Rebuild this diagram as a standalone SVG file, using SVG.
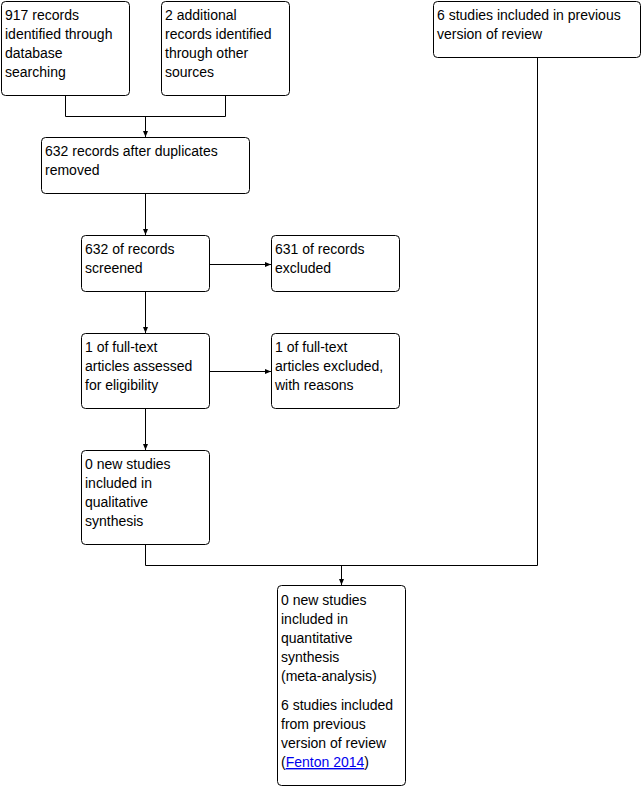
<svg xmlns="http://www.w3.org/2000/svg" width="642" height="786" viewBox="0 0 642 786">
<style>
.box{fill:#fff;stroke:#000;stroke-width:1}
text{font-family:"Liberation Sans",Arial,sans-serif;font-size:14px;fill:#000}
.link{fill:#0000ee;text-decoration:underline}
.con{fill:none;stroke:#000;stroke-width:1}
</style>
<defs>
<marker id="ah" markerWidth="6" markerHeight="6" refX="6" refY="3" orient="auto" markerUnits="userSpaceOnUse">
<path d="M0,0.5 L6,3 L0,5.5 Z" fill="#000"/>
</marker>
</defs>
<rect width="642" height="786" fill="#fff"/>
<g id="connectors">
<path class="con" d="M65.5,95 V116.5 H225.5 V95"/>
<path class="con" d="M145.5,116.5 V137" marker-end="url(#ah)"/>
<path class="con" d="M145.5,193 V235" marker-end="url(#ah)"/>
<path class="con" d="M209,264.5 H271" marker-end="url(#ah)"/>
<path class="con" d="M145.5,291 V333" marker-end="url(#ah)"/>
<path class="con" d="M209,371.5 H271" marker-end="url(#ah)"/>
<path class="con" d="M145.5,408 V450" marker-end="url(#ah)"/>
<path class="con" d="M145.5,544 V565.5 H537.5 V57"/>
<path class="con" d="M341.5,565.5 V585" marker-end="url(#ah)"/>
</g>
<g id="n1"><rect class="box" x="1.5" y="1.5" width="128" height="94" rx="4"/>
<text x="5" y="20">917 records</text><text x="5" y="39">identified through</text><text x="5" y="58">database</text><text x="5" y="77">searching</text></g>
<g id="n2"><rect class="box" x="161.5" y="1.5" width="128" height="94" rx="4"/>
<text x="165" y="20">2 additional</text><text x="165" y="39">records identified</text><text x="165" y="58">through other</text><text x="165" y="77">sources</text></g>
<g id="n3"><rect class="box" x="433.5" y="1.5" width="207" height="56" rx="4"/>
<text x="437" y="20">6 studies included in previous</text><text x="437" y="39">version of review</text></g>
<g id="n4"><rect class="box" x="41.5" y="137.5" width="208" height="56" rx="4"/>
<text x="45" y="156">632 records after duplicates</text><text x="45" y="175">removed</text></g>
<g id="n5"><rect class="box" x="81.5" y="235.5" width="128" height="56" rx="4"/>
<text x="85" y="254">632 of records</text><text x="85" y="273">screened</text></g>
<g id="n6"><rect class="box" x="271.5" y="235.5" width="128" height="56" rx="4"/>
<text x="275" y="254">631 of records</text><text x="275" y="273">excluded</text></g>
<g id="n7"><rect class="box" x="81.5" y="333.5" width="128" height="75" rx="4"/>
<text x="85" y="352">1 of full-text</text><text x="85" y="371">articles assessed</text><text x="85" y="390">for eligibility</text></g>
<g id="n8"><rect class="box" x="271.5" y="333.5" width="128" height="75" rx="4"/>
<text x="275" y="352">1 of full-text</text><text x="275" y="371">articles excluded,</text><text x="275" y="390">with reasons</text></g>
<g id="n9"><rect class="box" x="81.5" y="450.5" width="128" height="94" rx="4"/>
<text x="85" y="469">0 new studies</text><text x="85" y="488">included in</text><text x="85" y="507">qualitative</text><text x="85" y="526">synthesis</text></g>
<g id="n10"><rect class="box" x="277.5" y="585.5" width="128" height="200" rx="4"/>
<text x="281" y="605">0 new studies</text><text x="281" y="624">included in</text><text x="281" y="643">quantitative</text><text x="281" y="662">synthesis</text><text x="281" y="681">(meta-analysis)</text>
<text x="281" y="710">6 studies included</text><text x="281" y="729">from previous</text><text x="281" y="748">version of review</text>
<text x="281" y="767">(<tspan class="link">Fenton 2014</tspan>)</text></g>
</svg>
